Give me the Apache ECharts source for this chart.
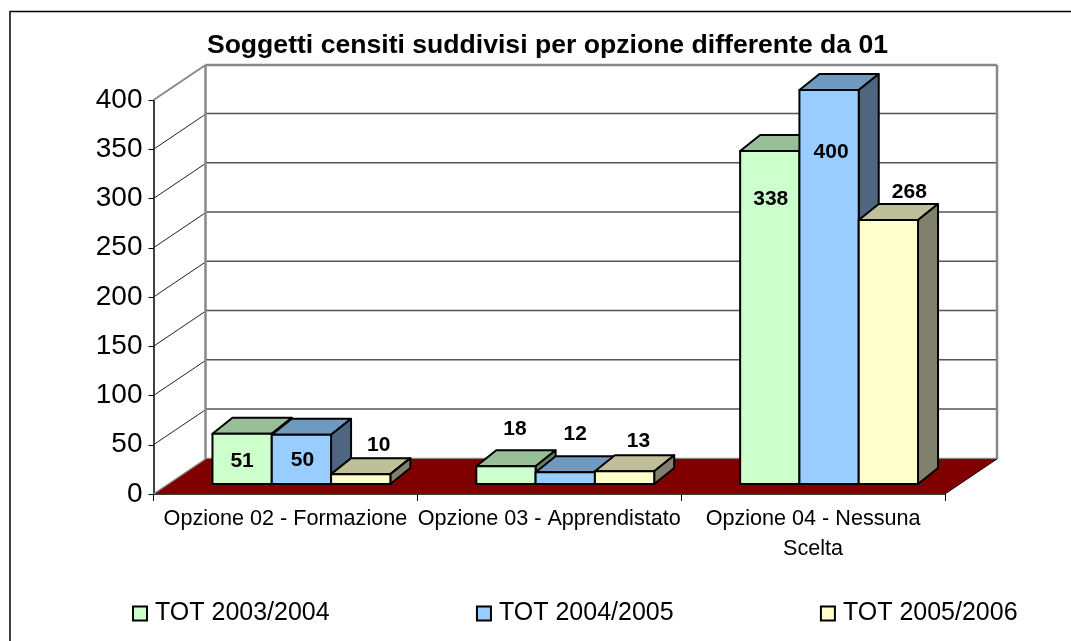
<!DOCTYPE html>
<html>
<head>
<meta charset="utf-8">
<style>html,body{margin:0;padding:0;background:#fff}#c{width:1071px;height:641px}</style>
<script src="https://cdn.jsdelivr.net/npm/echarts@6/dist/echarts.min.js"></script>
</head>
<body>
<div id="c"></div>
<script>
const categories = ['Opzione 02 - Formazione', 'Opzione 03 - Apprendistato', 'Opzione 04 - Nessuna\nScelta'];
const seriesNames = ['TOT 2003/2004', 'TOT 2004/2005', 'TOT 2005/2006'];
const tot2003 = [51, 18, 338];
const tot2004 = [50, 12, 400];
const tot2005 = [10, 13, 268];
const yTicks = [0, 50, 100, 150, 200, 250, 300, 350, 400];

// Rendering constants for the faux 3D projection
const WALL = {dx: 52, dy: -35};
const BAR = {w: 59.3, dx: 20, dy: -16, shiftX: 16, shiftY: -10};
const FONT = '"Liberation Sans", Arial, sans-serif';
const front = ['#CCFFCC', '#99CCFF', '#FFFFCC'];
const top_ = ['#99BF99', '#7099BF', '#BFBF99'];
const side = ['#668066', '#4F6680', '#80806B'];
// label displacement from the bar's top centre, as Excel placed them
const labelNudge = [
  [[0, 27], [1, 25], [18, -29]],
  [[9, -37], [10, -38], [14, -30]],
  [[1, 48], [2, 62], [21, -28]]
];

const chart = echarts.init(document.getElementById('c'));

function renderWalls(params, api) {
  const cs = params.coordSys;
  const L = cs.x, R = cs.x + cs.width, B = cs.y + cs.height;
  const kids = [];
  const line = (x1, y1, x2, y2, stroke, lw) => kids.push({
    type: 'line', shape: {x1, y1, x2, y2}, style: {stroke, lineWidth: lw}
  });
  yTicks.forEach(t => {
    const y = api.coord([0, t])[1];
    if (t > 0 && t < 400) {
      line(L, y, L + WALL.dx, y + WALL.dy, '#222', 1);
      line(L + WALL.dx, y + WALL.dy - 0.7, R + WALL.dx, y + WALL.dy - 0.7, '#555', 1.5);
    }
  });
  const T = cs.y;
  line(L, T, L + WALL.dx, T + WALL.dy, '#888', 2);
  line(L + WALL.dx, T + WALL.dy, R + WALL.dx, T + WALL.dy, '#888', 2.5);
  line(L + WALL.dx, T + WALL.dy, L + WALL.dx, B + WALL.dy, '#888', 2.5);
  line(R + WALL.dx, T + WALL.dy, R + WALL.dx, B + WALL.dy, '#888', 2.5);
  line(L + WALL.dx, B + WALL.dy, R + WALL.dx, B + WALL.dy, '#888', 2.5);
  kids.push({
    type: 'polygon',
    shape: {points: [[L, B], [R, B], [R + WALL.dx, B + WALL.dy], [L + WALL.dx, B + WALL.dy]]},
    style: {fill: '#800000', stroke: null}
  });
  line(L, B, L + WALL.dx, B + WALL.dy, '#888', 1.5);
  line(R, B, R + WALL.dx, B + WALL.dy, '#111', 1);
  return {type: 'group', children: kids};
}

function barRenderer(si) {
  return function (params, api) {
    const cat = api.value(0), val = api.value(1);
    const c = api.coord([cat, val]);
    const c0 = api.coord([cat, 0]);
    const x0 = c[0] + BAR.shiftX + (si - 1.5) * BAR.w;
    const x1 = x0 + BAR.w;
    const yT = c[1] + BAR.shiftY, yB = c0[1] + BAR.shiftY;
    const d = {stroke: '#000', lineWidth: 2, lineJoin: 'round'};
    const poly = (points, fill) => ({type: 'polygon', shape: {points}, style: Object.assign({fill}, d)});
    const nudge = labelNudge[cat][si];
    return {type: 'group', children: [
      poly([[x0, yT], [x1, yT], [x1 + BAR.dx, yT + BAR.dy], [x0 + BAR.dx, yT + BAR.dy]], top_[si]),
      poly([[x1, yT], [x1 + BAR.dx, yT + BAR.dy], [x1 + BAR.dx, yB + BAR.dy], [x1, yB]], side[si]),
      poly([[x0, yT], [x1, yT], [x1, yB], [x0, yB]], front[si]),
      {type: 'text', z2: 100, style: {
        text: String(val), x: (x0 + x1) / 2 + nudge[0], y: yT + nudge[1],
        fill: '#000', font: 'bold 21px ' + FONT, align: 'center', verticalAlign: 'middle'
      }}
    ]};
  };
}

const dataSets = [tot2003, tot2004, tot2005];
const option = {
  animation: false,
  backgroundColor: '#fff',
  title: {
    text: 'Soggetti censiti suddivisi per opzione differente da 01',
    left: 542.5, top: 27, textAlign: 'center',
    textStyle: {fontFamily: FONT, fontWeight: 'bold', fontSize: 26.6, color: '#000'}
  },
  graphic: [{
    type: 'polyline', silent: true,
    shape: {points: [[10, 641], [10, 11.5], [1071, 11.5]]},
    style: {stroke: '#000', lineWidth: 1.5, fill: null}
  }],
  grid: {left: 153.5, top: 100, width: 791.5, height: 394, containLabel: false},
  xAxis: {
    type: 'category', data: categories,
    axisLine: {show: true, lineStyle: {color: '#000', width: 1.5}},
    axisTick: {show: true, length: 7, lineStyle: {color: '#000'}},
    axisLabel: {interval: 0, fontFamily: FONT, fontSize: 21.6, color: '#000', lineHeight: 30, margin: 10, hideOverlap: false},
    splitLine: {show: false}
  },
  yAxis: {
    type: 'value', min: 0, max: 400, interval: 50,
    axisLine: {show: true, lineStyle: {color: '#000', width: 1.5}},
    axisTick: {show: true, length: 5, lineStyle: {color: '#000'}},
    axisLabel: {fontFamily: FONT, fontSize: 28, color: '#000', margin: 11, padding: [4, 0, 0, 0]},
    splitLine: {show: false}
  },
  legend: {
    data: seriesNames, left: 127, top: 596,
    itemWidth: 14, itemHeight: 14, itemGap: 146.3,
    icon: 'rect',
    itemStyle: {borderColor: '#000', borderWidth: 2},
    textStyle: {fontFamily: FONT, fontSize: 25, color: '#000', padding: [0, 0, 0, 3]},
    selectedMode: false
  },
  series: [
    {type: 'custom', name: 'walls', silent: true, z: 1, renderItem: renderWalls, data: [[0, 0]], clip: false}
  ].concat(seriesNames.map((name, si) => ({
    type: 'custom', name, z: 3 + si, silent: true, clip: false,
    itemStyle: {color: front[si]},
    renderItem: barRenderer(si),
    encode: {x: 0, y: 1},
    data: dataSets[si].map((v, i) => [i, v])
  })))
};
chart.setOption(option);
</script>
</body>
</html>
